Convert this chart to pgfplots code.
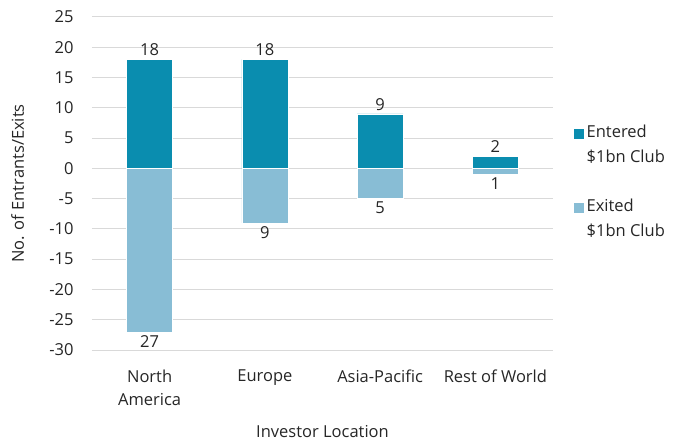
\documentclass[border=0pt]{standalone}
\usepackage{pgfplots}
\pgfplotsset{compat=1.18}
\usepackage{fontspec}
\setmainfont{Open Sans}
\definecolor{entered}{HTML}{0A8DAF}
\definecolor{exited}{HTML}{88BDD5}
\definecolor{gridgray}{HTML}{D9D9D9}
\definecolor{txt}{HTML}{262626}
\begin{document}
\begin{tikzpicture}[font=\fontsize{16.5}{23}\selectfont, text=txt]
\begin{axis}[
    scale only axis,
    width=461pt, height=333pt,
    xmin=-0.5, xmax=3.5,
    ymin=-30, ymax=25,
    ytick={-30,-25,...,25},
    xtick={0,1,2,3},
    xticklabels={North\\America, Europe, Asia-Pacific, Rest of World},
    xticklabel style={align=center, text=txt, yshift=-16pt},
    yticklabel style={text=txt, xshift=-15pt},
    /pgf/number format/assume math mode=true,
    axis line style={draw=none},
    major tick length=0pt,
    ymajorgrids=true,
    grid style={gridgray, line width=1pt},
    ylabel={No. of Entrants/Exits},
    ylabel style={text=txt, at={(axis description cs:-0.161,0.5)}, anchor=center},
    xlabel={Investor Location},
    xlabel style={text=txt, at={(axis description cs:0.5,-0.246)}, anchor=center},
    ybar, bar shift=0pt, bar width=46pt,
    nodes near coords,
    point meta=explicit symbolic,
    nodes near coords style={text=txt, font=\fontsize{16.5}{20}\selectfont},
    legend style={at={(1.037,0.69)}, anchor=north west, draw=none, fill=none,
        font=\fontsize{16.5}{25}\selectfont,
        cells={anchor=north west, align=left, text=txt},
        row sep=31pt},
    legend image code/.code={\fill[#1] (-4pt,-17pt) rectangle (7pt,-6pt);},
    clip=false,
]
\addplot[fill=entered, draw=white, line width=0.4pt] coordinates {
    (0,18) [18]
    (1,18) [18]
    (2,9) [9]
    (3,2) [2]
};
\addlegendentry{Entered\\\$1bn Club}
\addplot[fill=exited, draw=white, line width=0.4pt, nodes near coords align={below}] coordinates {
    (0,-27) [27]
    (1,-9) [9]
    (2,-5) [5]
    (3,-1) [1]
};
\addlegendentry{Exited\\\$1bn Club}
\end{axis}
\useasboundingbox (-92pt,-91pt) rectangle (591pt,17pt+333pt);
\end{tikzpicture}
\end{document}
